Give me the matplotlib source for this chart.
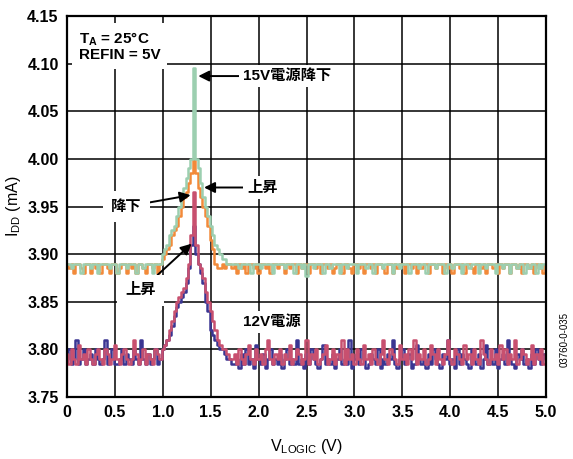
import numpy as np
import matplotlib
matplotlib.use("Agg")
import matplotlib.pyplot as plt

plt.rcParams['font.family'] = ['Liberation Sans', 'Noto Sans CJK JP', 'DejaVu Sans']
plt.rcParams['font.weight'] = 'bold'
plt.rcParams['mathtext.default'] = 'regular'

# sampling grid of V_LOGIC (V)
v_logic = np.linspace(0.0, 5.0, 201)

# 12V supply, rising (blue)
idd_12v_rise = [
    3.79, 3.80, 3.785, 3.79, 3.81, 3.785, 3.79, 3.80, 3.785, 3.79, 3.795, 3.785, 3.80, 3.79, 3.785, 3.79, 3.81, 3.785, 3.79, 3.80,
    3.785, 3.785, 3.79, 3.80, 3.785, 3.795, 3.79, 3.785, 3.80, 3.79, 3.785, 3.81, 3.79, 3.785, 3.795, 3.785, 3.79, 3.80, 3.785, 3.79,
    3.80, 3.805, 3.81, 3.815, 3.825, 3.835, 3.845, 3.85, 3.855, 3.86, 3.87, 3.885, 3.91, 3.93, 3.90, 3.89, 3.88, 3.87, 3.85, 3.84,
    3.82, 3.815, 3.81, 3.805, 3.80, 3.80, 3.795, 3.79, 3.79, 3.785,
    3.785, 3.79, 3.78, 3.795, 3.785, 3.80, 3.785, 3.79, 3.78, 3.805, 3.79, 3.785, 3.795, 3.78, 3.79, 3.80, 3.785, 3.79, 3.785, 3.795,
    3.78, 3.79, 3.80, 3.785, 3.79, 3.785, 3.81, 3.785, 3.79, 3.78, 3.795, 3.785, 3.80, 3.79, 3.785, 3.78, 3.79, 3.805, 3.785, 3.79,
    3.785, 3.795, 3.78, 3.79, 3.80, 3.785, 3.79, 3.785, 3.81, 3.78, 3.79, 3.795, 3.785, 3.80, 3.79, 3.78, 3.785, 3.795, 3.79, 3.785,
    3.80, 3.78, 3.79, 3.785, 3.795, 3.79, 3.81, 3.785, 3.78, 3.79, 3.80, 3.785, 3.79, 3.795, 3.78, 3.785, 3.805, 3.79, 3.785, 3.79,
    3.78, 3.795, 3.785, 3.80, 3.79, 3.785, 3.78, 3.795, 3.79, 3.81, 3.785, 3.79, 3.78, 3.80, 3.785, 3.795, 3.79, 3.785, 3.78, 3.80,
    3.79, 3.785, 3.795, 3.78, 3.79, 3.805, 3.785, 3.79, 3.785, 3.80, 3.78, 3.79, 3.795, 3.785, 3.81, 3.79, 3.785, 3.78, 3.795, 3.79,
    3.80, 3.785, 3.79, 3.78, 3.795, 3.785, 3.80, 3.79, 3.785, 3.795, 3.79,
]

# 12V supply, falling (red)
idd_12v_fall = [
    3.795, 3.785, 3.80, 3.79, 3.785, 3.805, 3.79, 3.795, 3.785, 3.80, 3.79, 3.785, 3.795, 3.80, 3.79, 3.785, 3.80, 3.795, 3.785, 3.79,
    3.805, 3.79, 3.785, 3.795, 3.80, 3.79, 3.785, 3.79, 3.81, 3.795, 3.785, 3.79, 3.80, 3.785, 3.795, 3.79, 3.785, 3.80, 3.795, 3.79,
    3.80, 3.805, 3.81, 3.82, 3.83, 3.84, 3.85, 3.855, 3.86, 3.865, 3.875, 3.89, 3.92, 3.965, 3.91, 3.89, 3.885, 3.875, 3.86, 3.85,
    3.84, 3.83, 3.82, 3.81, 3.805, 3.80, 3.80, 3.795, 3.79, 3.79,
    3.795, 3.785, 3.80, 3.79, 3.785, 3.795, 3.805, 3.79, 3.785, 3.80, 3.79, 3.795, 3.785, 3.80, 3.81, 3.79, 3.785, 3.795, 3.79, 3.80,
    3.785, 3.795, 3.79, 3.805, 3.785, 3.79, 3.80, 3.795, 3.785, 3.79, 3.81, 3.785, 3.795, 3.79, 3.80, 3.785, 3.79, 3.795, 3.805, 3.785,
    3.79, 3.80, 3.785, 3.795, 3.79, 3.81, 3.785, 3.80, 3.79, 3.795, 3.785, 3.80, 3.79, 3.785, 3.805, 3.79, 3.795, 3.785, 3.80, 3.79,
    3.785, 3.795, 3.81, 3.79, 3.785, 3.80, 3.795, 3.79, 3.785, 3.805, 3.79, 3.795, 3.785, 3.80, 3.79, 3.81, 3.785, 3.795, 3.79, 3.80,
    3.785, 3.79, 3.805, 3.795, 3.785, 3.80, 3.79, 3.785, 3.795, 3.81, 3.79, 3.785, 3.80, 3.795, 3.79, 3.785, 3.805, 3.79, 3.795, 3.785,
    3.80, 3.79, 3.785, 3.81, 3.795, 3.79, 3.785, 3.80, 3.79, 3.795, 3.785, 3.805, 3.79, 3.80, 3.785, 3.795, 3.79, 3.81, 3.785, 3.79,
    3.80, 3.795, 3.785, 3.79, 3.805, 3.785, 3.795, 3.79, 3.80, 3.785, 3.795,
]

# 15V supply, rising (orange)
idd_15v_rise = [
    3.89, 3.885, 3.89, 3.88, 3.89, 3.89, 3.885, 3.88, 3.89, 3.89, 3.88, 3.89, 3.885, 3.89, 3.88, 3.89, 3.89, 3.885, 3.88, 3.89,
    3.89, 3.88, 3.885, 3.89, 3.89, 3.88, 3.89, 3.885, 3.89, 3.88, 3.89, 3.89, 3.885, 3.88, 3.89, 3.89, 3.885, 3.89, 3.88, 3.89,
    3.895, 3.90, 3.905, 3.91, 3.92, 3.925, 3.93, 3.94, 3.95, 3.96, 3.965, 3.975, 3.985, 4.00, 3.985, 3.97, 3.96, 3.95, 3.94, 3.93,
    3.915, 3.905, 3.89, 3.885, 3.885, 3.89, 3.885, 3.89, 3.89, 3.885,
    3.89, 3.88, 3.89, 3.885, 3.89, 3.88, 3.89, 3.89, 3.885, 3.89, 3.88, 3.89, 3.89, 3.885, 3.89, 3.88, 3.89, 3.89, 3.885, 3.89,
    3.89, 3.88, 3.89, 3.885, 3.89, 3.89, 3.88, 3.89, 3.885, 3.89, 3.89, 3.88, 3.89, 3.89, 3.885, 3.89, 3.88, 3.89, 3.89, 3.885,
    3.89, 3.88, 3.885, 3.89, 3.89, 3.88, 3.89, 3.89, 3.885, 3.88, 3.89, 3.89, 3.885, 3.89, 3.88, 3.89, 3.89, 3.885, 3.89, 3.88,
    3.89, 3.89, 3.885, 3.88, 3.89, 3.89, 3.88, 3.89, 3.885, 3.89, 3.89, 3.88, 3.89, 3.89, 3.885, 3.89, 3.88, 3.89, 3.885, 3.89,
    3.89, 3.88, 3.89, 3.89, 3.885, 3.89, 3.89, 3.88, 3.89, 3.885, 3.89, 3.88, 3.89, 3.89, 3.885, 3.89, 3.88, 3.89, 3.89, 3.885,
    3.88, 3.89, 3.89, 3.885, 3.89, 3.88, 3.89, 3.89, 3.885, 3.89, 3.88, 3.89, 3.885, 3.89, 3.89, 3.88, 3.89, 3.89, 3.885, 3.89,
    3.88, 3.89, 3.89, 3.885, 3.89, 3.88, 3.89, 3.885, 3.89, 3.88, 3.89,
]

# 15V supply, falling (green)
idd_15v_fall = [
    3.89, 3.89, 3.885, 3.89, 3.89, 3.89, 3.88, 3.89, 3.89, 3.89, 3.885, 3.89, 3.89, 3.88, 3.89, 3.89, 3.89, 3.89, 3.885, 3.89,
    3.89, 3.88, 3.89, 3.89, 3.89, 3.885, 3.89, 3.89, 3.89, 3.88, 3.89, 3.89, 3.885, 3.89, 3.89, 3.89, 3.88, 3.89, 3.89, 3.89,
    3.90, 3.905, 3.91, 3.92, 3.925, 3.93, 3.94, 3.95, 3.96, 3.97, 3.98, 3.99, 4.00, 4.095, 4.00, 3.99, 3.975, 3.96, 3.95, 3.94,
    3.93, 3.92, 3.91, 3.905, 3.90, 3.895, 3.895, 3.89, 3.89, 3.89,
    3.89, 3.89, 3.885, 3.89, 3.89, 3.89, 3.89, 3.88, 3.89, 3.89, 3.89, 3.885, 3.89, 3.89, 3.89, 3.89, 3.88, 3.89, 3.89, 3.89,
    3.89, 3.885, 3.89, 3.89, 3.89, 3.88, 3.89, 3.89, 3.885, 3.89, 3.877, 3.89, 3.89, 3.885, 3.89, 3.89, 3.89, 3.88, 3.89, 3.89,
    3.885, 3.89, 3.89, 3.89, 3.88, 3.89, 3.89, 3.885, 3.89, 3.89, 3.89, 3.88, 3.89, 3.89, 3.89, 3.885, 3.89, 3.89, 3.88, 3.89,
    3.89, 3.89, 3.885, 3.89, 3.89, 3.89, 3.88, 3.89, 3.89, 3.885, 3.89, 3.89, 3.89, 3.88, 3.89, 3.89, 3.89, 3.885, 3.89, 3.89,
    3.88, 3.89, 3.89, 3.89, 3.885, 3.89, 3.89, 3.89, 3.88, 3.89, 3.89, 3.885, 3.89, 3.89, 3.89, 3.88, 3.89, 3.89, 3.885, 3.89,
    3.89, 3.89, 3.88, 3.89, 3.89, 3.885, 3.89, 3.89, 3.89, 3.88, 3.89, 3.89, 3.885, 3.89, 3.89, 3.88, 3.89, 3.89, 3.885, 3.89,
    3.89, 3.88, 3.89, 3.885, 3.89, 3.89, 3.88, 3.89, 3.885, 3.89, 3.89,
]

x_ticks = [0.0, 0.5, 1.0, 1.5, 2.0, 2.5, 3.0, 3.5, 4.0, 4.5, 5.0]
x_tick_labels = ['0', '0.5', '1.0', '1.5', '2.0', '2.5', '3.0', '3.5', '4.0', '4.5', '5.0']
y_ticks = [3.75, 3.80, 3.85, 3.90, 3.95, 4.00, 4.05, 4.10, 4.15]
y_tick_labels = ['3.75', '3.80', '3.85', '3.90', '3.95', '4.00', '4.05', '4.10', '4.15']

fig = plt.figure(figsize=(5.73, 4.59), dpi=100)
ax = fig.add_axes([0.117, 0.135, 0.836, 0.830])

ds = 'steps-mid'
ax.plot(v_logic, idd_15v_rise, color='#f28a3a', lw=1.8, zorder=3, drawstyle=ds)
ax.plot(v_logic, idd_15v_fall, color='#9ccfb0', lw=1.8, zorder=4, drawstyle=ds)
ax.plot(v_logic, idd_12v_rise, color='#3a3592', lw=1.8, zorder=5, drawstyle=ds)
ax.plot(v_logic, idd_12v_fall, color='#c8506f', lw=1.8, zorder=6, drawstyle=ds)

ax.set_xlim(0, 5)
ax.set_ylim(3.75, 4.15)
ax.set_xticks(x_ticks)
ax.set_xticklabels(x_tick_labels)
ax.set_yticks(y_ticks)
ax.set_yticklabels(y_tick_labels)
ax.tick_params(length=0, labelsize=11.5, pad=6)
ax.grid(True, color='black', lw=1.1, zorder=1)
ax.set_axisbelow(True)
for s in ax.spines.values():
    s.set_linewidth(1.6)
    s.set_zorder(10)

ax.set_xlabel('V$_{LOGIC}$ (V)', fontsize=11.5, labelpad=12)
ax.set_ylabel('I$_{DD}$ (mA)', fontsize=11.5, labelpad=3)

box = dict(facecolor='white', edgecolor='none', pad=3)
ax.text(0.12, 4.118, 'T$_{A}$ = 25°C\nREFIN = 5V', fontsize=11, va='center', ha='left',
        bbox=dict(facecolor='white', edgecolor='none', pad=5), zorder=8, linespacing=1.0)

arrow = dict(arrowstyle='-|>', color='black', lw=1.4, mutation_scale=16, shrinkA=0, shrinkB=0)
ax.annotate('15V電源降下', xy=(1.37, 4.087), xytext=(1.84, 4.087), fontsize=11,
            va='center', ha='left', arrowprops=arrow, bbox=box, zorder=8)
ax.annotate('上昇', xy=(1.43, 3.970), xytext=(1.88, 3.970), fontsize=11,
            va='center', ha='left', arrowprops=arrow, bbox=box, zorder=8)
ax.annotate('降下', xy=(1.29, 3.962), xytext=(0.62, 3.950), fontsize=11,
            va='center', ha='center', arrowprops=arrow, bbox=dict(facecolor='white', edgecolor='none', pad=6), zorder=8)
ax.annotate('上昇', xy=(1.30, 3.911), xytext=(0.77, 3.862), fontsize=11,
            va='center', ha='center', arrowprops=arrow, bbox=dict(facecolor='white', edgecolor='none', pad=6), zorder=8)
ax.text(1.84, 3.829, '12V電源', fontsize=11, va='center', ha='left', bbox=box, zorder=8)

fig.text(0.986, 0.26, '03760-0-035', rotation=90, fontsize=7, fontweight='normal', ha='center', va='center')

fig.savefig('out.png', dpi=100)
